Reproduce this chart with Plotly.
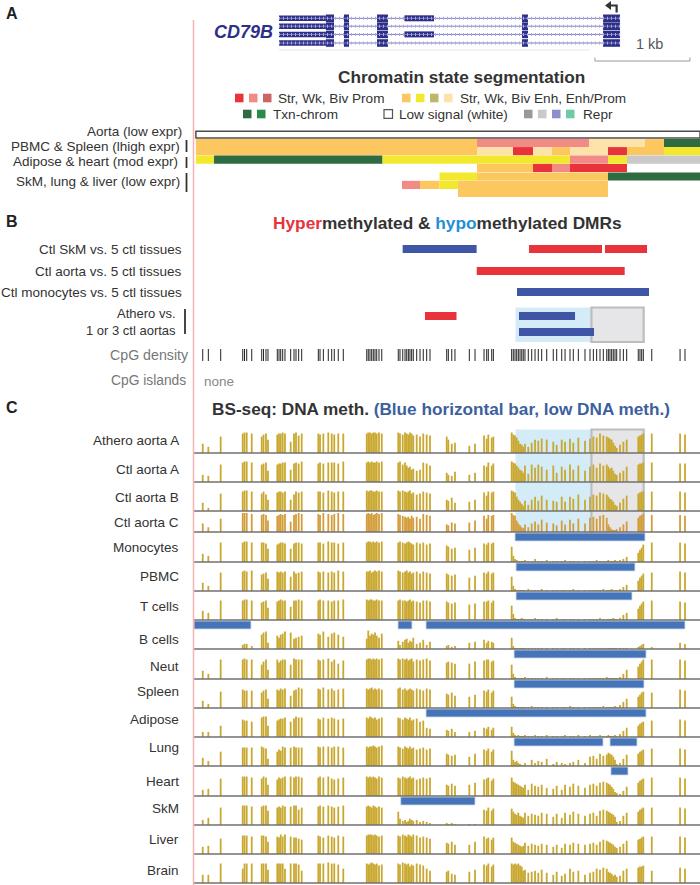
import plotly.graph_objects as go

FONT = "Liberation Sans, Arial, sans-serif"
W, H = 700, 885

# ------------------------------------------------------------------ data
WINDOW_BP = 5328                      # genomic window shown (bp from window start)
SCALEBAR_BP = [4222, 5222]            # 1 kb scale bar
TSS_BP = 4430

# gene model (CD79B, minus strand)
TRANSCRIPT_SPAN = [895, 4486]
UTR_BLOCK = [895, 1389]
EXONS_COMMON = [[1389, 1474], [1579, 1632], [1927, 2043], [3454, 3517], [4307, 4486]]
ALT_EXON = [2216, 2527]
TRANSCRIPT_HAS_ALT = [True, False, True, False]

# chromatin state segments [start, end, state]
CHROM_AORTA = [[20, 5328, "Low"]]
CHROM_PBMC_A = [[20, 2980, "EnhS"], [2980, 4159, "PromW"], [4159, 4749, "EnhP"], [4749, 4949, "EnhS"], [4949, 5328, "Txn1"]]
CHROM_PBMC_B = [[20, 2980, "EnhS"], [2980, 3359, "EnhP"], [3359, 3570, "PromS"], [3570, 3770, "EnhP"], [3770, 3959, "EnhS"],
                [3959, 4359, "EnhP"], [4359, 4559, "PromS"], [4559, 4949, "EnhS"], [4949, 5328, "EnhW"]]
CHROM_ADIP_A = [[20, 211, "EnhW"], [211, 1985, "Txn1"], [1985, 3959, "EnhW"], [3959, 4359, "PromW"], [4359, 4559, "EnhW"], [4559, 5328, "Repr2"]]
CHROM_ADIP_B = [[2980, 3570, "EnhS"], [3570, 3770, "PromS"], [3770, 3959, "PromW"], [3959, 4559, "PromS"]]
CHROM_SKM_A = [[2585, 2980, "EnhW"], [2980, 4359, "EnhS"], [4359, 5328, "Txn1"]]
CHROM_SKM_B = [[2190, 2380, "PromW"], [2380, 2585, "EnhS"], [2585, 2780, "EnhW"], [2780, 4359, "EnhS"]]
CHROM_SKM_C = [[2780, 4359, "EnhS"]]

# DMRs [start, end, type]
DMR_SKM = [[2197, 2976, "hypo"], [3528, 4296, "hyper"], [4328, 4770, "hyper"]]
DMR_AORTA = [[2977, 4535, "hyper"]]
DMR_MONO = [[3401, 4791, "hypo"]]
DMR_ATHERO_1 = [[2432, 2764, "hyper"], [3422, 4012, "hypo"]]
DMR_ATHERO_2 = [[3422, 4212, "hypo"]]
HILITE_BP = [3385, 4185]
GRAYBOX_BP = [4185, 4735]

# CpG sites (bp)
CPG_POS = [92, 151, 281,
           513, 532, 555, 608,
           713, 732, 758, 779,
           877, 895, 913, 934, 958,
           1018, 1053, 1074, 1102, 1134,
           1309, 1327, 1362, 1414, 1450, 1477, 1519, 1572,
           1819, 1835, 1853, 1871, 1888, 1906, 1924, 1948, 1977,
           2151, 2169, 2198, 2222, 2240, 2257, 2274, 2292, 2309, 2345, 2380, 2414, 2450, 2485,
           2661, 2678, 2714, 2748,
           2899, 2959,
           3054, 3082, 3099, 3135, 3152,
           3345, 3362, 3380, 3398, 3415, 3433, 3451, 3467, 3485, 3520, 3556, 3591, 3625, 3661, 3714, 3783, 3819, 3872, 3907, 3959, 3994, 4047, 4117,
           4170, 4205, 4240, 4275, 4310, 4346, 4363, 4380, 4398, 4415, 4433, 4451, 4486, 4521, 4556,
           4678, 4696, 4714, 4731,
           4820,
           5118, 5170]

# % methylation per CpG, per sample
METH_ATHERO_A = [45,30,80, 95,100,100,95, 80,90,95,65, 90,95,95,100,95, 55,95,100,85,95, 95,90,95,100,95,90,95,95,
                 95,100,100,95,100,100,95,100,95, 100,95,90,100,95,90,100,95,85,90,80,95,90,85, 80,65,45,50, 35,45, 85,70,90,75,80,
                 100,90,85,75,60,45,40,30,45,30,50,65,60,70,65,55,40,65,55,70,50,75,60,
                 70,80,75,95,85,80,75,70,65,50,35,25,40,55,65, 80,85,90,95, 95, 95,90]
METH_CTL_AORTA_A = [35,30,85, 95,100,100,95, 85,90,95,55, 85,90,90,95,95, 60,90,95,90,100, 90,95,90,95,95,95,90,100,
                    95,100,95,100,95,95,100,95,100, 95,100,85,95,80,70,75,60,65,55,60,95,90,80, 45,35,30,50, 35,45, 80,75,95,80,90,
                    100,95,90,80,70,60,55,45,80,40,85,70,85,75,60,80,45,75,60,85,60,80,55,
                    75,85,70,90,80,85,75,65,70,55,40,35,45,55,75, 85,90,90,95, 95, 90,90]
METH_CTL_AORTA_B = [40,15,85, 95,100,100,95, 85,95,80,55, 90,95,95,90,95, 55,80,95,90,95, 95,95,90,100,95,90,95,95,
                    100,95,100,100,95,95,100,95,95, 100,95,100,95,90,95,100,85,90,80,85,95,90,85, 55,50,65,40, 45,55, 90,75,95,90,95,
                    100,95,90,70,55,45,35,25,50,30,55,70,50,75,55,50,45,70,45,70,60,80,55,
                    70,80,75,90,85,80,70,60,55,45,30,25,40,60,75, 85,90,95,95, 95, 95,90]
METH_CTL_AORTA_C = [45,25,70, 100,100,100,95, 90,95,90,60, 85,90,95,90,95, 55,90,95,100,95, 95,90,100,95,90,95,100,95,
                    95,100,95,100,90,95,100,95,100, 95,90,85,80,75,80,70,85,75,80,70,95,90,85, 40,35,50,45, 50,60, 85,70,90,85,90,
                    100,90,85,60,45,35,25,20,40,25,45,55,40,65,50,45,35,60,40,65,45,70,45,
                    75,80,70,85,90,75,40,25,15,10,10,15,25,40,55, 75,85,90,95, 90, 90,85]
METH_MONOCYTES = [40,30,95, 95,100,100,95, 95,95,90,65, 85,90,95,95,90, 65,90,95,95,90, 95,95,90,100,95,95,90,95,
                  95,100,100,95,100,95,100,95,100, 95,100,95,90,95,100,95,90,85,95,90,95,85,90, 80,75,65,70, 60,70, 90,85,95,90,95,
                  75,30,15,10,5,5,5,5,10,5,5,15,5,5,10,5,5,5,10,5,5,5,5,
                  5,5,10,5,5,5,10,5,5,5,10,5,10,15,25, 45,60,70,85, 95, 95,90]
METH_PBMC = [40,25,90, 95,100,95,100, 80,85,90,60, 95,90,95,90,95, 70,95,85,90,95, 95,90,95,90,95,90,100,95,
             95,95,100,90,95,100,95,100,95, 100,95,90,95,100,90,95,85,90,95,85,95,90,85, 85,80,75,80, 65,75, 90,85,95,85,90,
             70,25,10,5,5,5,5,5,5,10,5,5,5,10,5,5,5,5,5,5,10,5,5,
             5,5,5,5,10,5,5,5,10,5,5,5,10,20,30, 50,65,75,85, 90, 95,90]
METH_T_CELLS = [45,35,95, 95,100,100,95, 85,90,95,60, 90,95,100,95,95, 65,95,95,100,95, 95,100,95,95,90,95,95,100,
                100,95,100,100,95,95,100,95,95, 95,100,95,95,90,95,100,90,95,90,85,95,95,90, 90,85,80,85, 75,80, 90,90,95,85,95,
                70,30,10,5,5,5,10,5,5,5,5,10,5,5,5,5,10,5,5,5,5,5,5,
                5,5,5,10,5,5,5,5,5,10,5,5,10,25,35, 55,70,80,90, 95, 90,85]
METH_B_CELLS = [0,0,0, 20,25,25,15, 70,80,85,30, 65,55,70,75,85, 80,50,55,60,65, 75,70,85,60,75,80,70,60,
                50,90,65,75,70,80,65,55,75, 40,20,35,45,50,30,40,35,55,25,30,45,20,35, 15,20,10,15, 30,35, 45,30,40,35,30,
                55,15,5,5,5,5,5,5,5,5,5,5,5,5,5,5,5,5,5,5,5,5,5,
                5,5,5,5,5,5,5,5,5,5,5,5,5,5,5, 10,15,20,25, 10, 30,25]
METH_NEUT = [40,25,95, 95,100,95,95, 70,85,95,45, 95,80,90,95,95, 70,100,95,95,95, 95,90,95,100,85,95,75,90,
             95,100,100,95,100,95,100,95,100, 100,95,100,95,100,90,95,100,85,95,90,95,100,90, 80,85,80,75, 75,85, 90,95,95,85,90,
             70,25,10,5,5,5,5,5,10,5,5,5,5,5,10,5,5,5,5,5,5,5,5,
             5,5,5,5,5,10,5,5,5,5,5,5,10,25,45, 60,75,85,95, 95, 95,90]
METH_SPLEEN = [35,20,80, 90,85,85,85, 75,85,90,45, 90,85,95,90,95, 60,85,90,100,95, 95,90,100,90,95,85,90,95,
               95,90,95,100,90,95,90,95,90, 95,100,90,95,85,90,95,90,85,95,90,85,95,90, 70,65,75,60, 55,65, 85,80,90,75,85,
               55,20,10,5,5,5,5,5,5,5,10,5,5,5,5,5,5,5,5,10,5,5,5,
               5,5,5,5,10,5,5,5,5,5,10,5,15,30,45, 55,65,75,80, 75, 90,85]
METH_ADIPOSE = [25,25,55, 85,80,80,75, 95,100,100,55, 80,85,90,90,95, 75,90,100,95,95, 90,85,95,90,95,90,85,90,
                95,90,100,95,90,95,85,90,95, 95,90,85,95,90,85,95,80,85,90,75,80,45,40, 35,30,40,25, 25,30, 45,40,50,35,45,
                50,20,10,5,10,5,5,5,10,5,5,10,5,5,10,5,5,5,10,5,5,10,5,
                10,5,5,10,5,5,10,5,5,5,10,5,15,30,45, 55,65,70,75, 80, 85,80]
METH_LUNG = [40,25,70, 90,90,90,90, 95,90,85,35, 70,80,75,95,90, 90,95,90,90,90, 95,90,95,95,90,95,95,90,
             95,90,95,95,100,95,90,95,100, 95,90,85,95,90,85,95,85,90,80,85,90,80,85, 60,55,50,55, 45,60, 80,75,85,70,80,
             75,30,20,25,15,10,5,5,15,5,30,15,25,20,35,10,20,15,10,15,20,30,15,
             45,50,35,60,50,55,65,60,55,45,30,10,15,35,55, 60,70,75,80, 85, 85,80]
METH_HEART = [30,35,85, 95,95,95,90, 85,95,90,55, 80,90,85,90,95, 95,90,95,95,90, 90,95,90,95,85,80,85,90,
              95,90,95,90,95,90,85,95,90, 90,85,95,90,85,90,95,85,90,80,85,90,85,90, 55,50,60,50, 55,65, 80,85,90,75,85,
              90,70,65,60,55,50,45,40,55,30,60,50,45,55,40,35,50,30,55,45,60,50,40,
              55,60,50,65,70,65,60,55,45,35,20,15,10,25,45, 65,75,80,85, 90, 90,85]
METH_SKM = [25,35,85, 95,95,95,90, 90,95,95,70, 85,90,85,95,90, 90,95,95,75,85, 90,95,90,95,90,85,90,95,
            90,95,90,85,95,90,85,90,85, 65,30,20,25,15,20,30,25,20,25,15,20,15,10, 10,5,10,5, 5,5, 75,70,85,70,80,
            80,65,55,50,60,45,40,35,60,45,55,50,45,60,55,40,55,35,60,50,65,55,45,
            55,60,45,70,75,70,65,60,55,50,40,15,20,45,60, 65,75,80,85, 85, 85,80]
METH_LIVER = [35,40,75, 90,90,90,85, 90,90,85,60, 85,80,95,85,95, 85,80,80,75,70, 90,85,80,90,85,80,90,85,
              90,95,95,95,90,95,90,85,90, 90,85,95,90,85,95,90,85,95,90,80,85,80,75, 55,50,60,45, 45,60, 85,75,80,70,80,
              80,60,55,50,45,40,35,40,55,40,50,45,40,50,45,35,45,30,50,45,55,50,45,
              50,55,45,60,70,65,60,55,50,45,35,30,35,50,65, 70,75,80,85, 85, 85,80]
METH_BRAIN = [40,40,95, 70,95,95,95, 95,95,95,65, 95,95,95,95,70, 95,95,95,90,60, 95,95,95,100,95,95,90,70,
              95,90,95,100,95,90,95,85,90, 95,90,100,95,90,95,80,90,85,95,90,85,70,60, 55,60,45,40, 55,65, 90,85,95,80,90,
              95,90,95,90,95,85,80,60,65,50,55,60,50,65,50,40,55,35,45,70,55,60,40,
              50,55,70,65,75,70,55,50,45,35,40,30,35,60,70, 75,80,80,85, 60, 75,70]

SAMPLES = ["Athero aorta A", "Ctl aorta A", "Ctl aorta B", "Ctl aorta C", "Monocytes", "PBMC", "T cells", "B cells",
           "Neut", "Spleen", "Adipose", "Lung", "Heart", "SkM", "Liver", "Brain"]
METH = [METH_ATHERO_A, METH_CTL_AORTA_A, METH_CTL_AORTA_B, METH_CTL_AORTA_C, METH_MONOCYTES, METH_PBMC, METH_T_CELLS,
        METH_B_CELLS, METH_NEUT, METH_SPLEEN, METH_ADIPOSE, METH_LUNG, METH_HEART, METH_SKM, METH_LIVER, METH_BRAIN]

# low-methylation (blue) bars per sample
LOWMETH = {
    "Monocytes": [[3380, 4749]],
    "PBMC": [[3391, 4643]],
    "T cells": [[3391, 4612]],
    "B cells": [[0, 600], [2148, 2295], [2443, 5170]],
    "Neut": [[3370, 4760]],
    "Spleen": [[3370, 4738]],
    "Adipose": [[2443, 4760]],
    "Lung": [[3370, 4307], [4380, 4665]],
    "Heart": [[4390, 4570]],
    "SkM": [[2177, 2959]],
}

# ------------------------------------------------------------------ styles / layout constants
STATE_COLORS = {
    "PromS": "#e8333a", "PromW": "#f28a86", "PromB": "#cd6567",
    "EnhS": "#fdc760", "EnhW": "#f2e82e", "EnhB": "#bdb66b", "EnhP": "#fde2aa",
    "Txn1": "#2e6b40", "Txn2": "#2a8a4a",
    "Repr1": "#999999", "Repr2": "#c9c9c9", "Repr3": "#8c90cc", "Repr4": "#6fcaa7",
    "Low": "#ffffff",
}
DMR_COLORS = {"hyper": "#e8333a", "hypo": "#3f56a6"}
LOW_BLUE = "#4674b8"
GOLD = "#c9a831"
GOLD_C = "#d39d3c"
GENE_COLOR = "#2e3087"
LBL = 13.5

TRANSCRIPT_Y = [18.3, 26.2, 34.4, 43.0]
CHROM_ROWS = [(CHROM_PBMC_A, 143.2), (CHROM_PBMC_B, 151.2), (CHROM_ADIP_A, 159.6), (CHROM_ADIP_B, 168.0),
              (CHROM_SKM_A, 176.5), (CHROM_SKM_B, 184.9), (CHROM_SKM_C, 193.0)]
DMR_ROWS = [(DMR_SKM, 249), (DMR_AORTA, 271), (DMR_MONO, 292), (DMR_ATHERO_1, 316), (DMR_ATHERO_2, 332)]
BASELINES = [453, 482, 511, 532, 562, 591, 620, 649, 679, 708, 737, 766, 796, 825, 854, 883]
LABEL_Y = [440.7, 469, 497.7, 522, 547, 576.7, 606.7, 639, 666, 691.7, 719, 747.3, 781.7, 808.3, 839, 870.7]

fig = go.Figure()
shapes = []
ann = []


def P(xpx):
    return xpx / W


def hbars(segs, yc, hgt, colors, lc="rgba(0,0,0,0)", lw=0):
    fig.add_trace(go.Bar(orientation="h", base=[s[0] for s in segs], x=[s[1] - s[0] for s in segs],
                         y=[yc] * len(segs), width=[hgt] * len(segs),
                         marker=dict(color=colors, line=dict(color=lc, width=lw)), hoverinfo="skip"))


def line(xs, ys, color, width, dash=None):
    fig.add_trace(go.Scatter(x=xs, y=ys, mode="lines", line=dict(color=color, width=width, dash=dash),
                             hoverinfo="skip"))


def text(xpx, ypx, s, size=LBL, color="#333333", anchor="right"):
    ann.append(dict(xref="paper", yref="y", x=P(xpx), y=ypx, text=s, showarrow=False, xanchor=anchor,
                    yanchor="middle", font=dict(family=FONT, size=size, color=color)))


# ---------------- section A: gene model
line([TRANSCRIPT_SPAN[0], GRAYBOX_BP[0] - 15], [50, 50], "#e6e6e6", 1)
for yc, alt in zip(TRANSCRIPT_Y, TRANSCRIPT_HAS_ALT):
    line(TRANSCRIPT_SPAN, [yc, yc], "#7c7cc4", 1)
    line(TRANSCRIPT_SPAN, [yc, yc], "#a9a9df", 3, "1px,3px")
    hbars([UTR_BLOCK], yc, 5.5, GENE_COLOR)
    hbars(EXONS_COMMON, yc, 7.6, GENE_COLOR)
    if alt:
        hbars([ALT_EXON], yc, 6, GENE_COLOR)
# TSS arrow
line([TSS_BP + 20, TSS_BP + 20, TSS_BP - 45], [12.5, 5.5, 5.5], "#333333", 2.2)
fig.add_trace(go.Scatter(x=[TSS_BP - 60], y=[5.5], mode="markers",
                         marker=dict(symbol="triangle-left", size=8, color="#333333"), hoverinfo="skip"))
# scale bar
line([SCALEBAR_BP[0], SCALEBAR_BP[0], SCALEBAR_BP[1], SCALEBAR_BP[1]], [57.5, 61, 61, 57.5], "#9a9a9a", 1)
ann.append(dict(xref="x", yref="y", x=(SCALEBAR_BP[0] + SCALEBAR_BP[1]) / 2 + 70, y=44, text="1 kb",
                showarrow=False, font=dict(family=FONT, size=14.5, color="#555555")))
ann.append(dict(xref="paper", yref="y", x=P(243), y=32, text="<b><i>CD79B</i></b>", showarrow=False,
                font=dict(family=FONT, size=18, color=GENE_COLOR)))

# chromatin title + legend
text(461, 77, "<b>Chromatin state segmentation</b>", size=17.2, anchor="center")
legend_items = [
    (98, [235, 249, 263], ["PromS", "PromW", "PromB"], 277, "Str, Wk, Biv Prom"),
    (98, [402, 416, 430, 444], ["EnhS", "EnhW", "EnhB", "EnhP"], 459, "Str, Wk, Biv Enh, Enh/Prom"),
    (114, [243, 257], ["Txn1", "Txn2"], 272, "Txn-chrom"),
    (114, [384], ["Low"], 398, "Low signal (white)"),
    (114, [524, 538, 552, 566], ["Repr1", "Repr2", "Repr3", "Repr4"], 582, "Repr"),
]
for yc, xs, states, tx, label in legend_items:
    for xl, st in zip(xs, states):
        shapes.append(dict(type="rect", xref="paper", yref="y", x0=P(xl), x1=P(xl + 8.5), y0=yc - 4.3, y1=yc + 4.3,
                           fillcolor=STATE_COLORS[st],
                           line=dict(color="#555555" if st == "Low" else STATE_COLORS[st], width=1.2 if st == "Low" else 0)))
    text(tx - 1, yc, label, size=13.6, anchor="left")

# chromatin rows
hbars([s[:2] for s in CHROM_AORTA], 134.6, 6.6, "#ffffff", lc="#4d4d4d", lw=1.5)
for segs, yc in CHROM_ROWS:
    hbars([s[:2] for s in segs], yc, 8.2, [STATE_COLORS[s[2]] for s in segs])

text(184, 131.7, "Aorta (low expr)")
text(182, 146, "PBMC & Spleen (lhigh expr)")
text(180, 161.5, "Adipose & heart (mod expr)")
text(182, 181.7, "SkM, lung & liver (low expr)")
for y0, y1 in [(140, 152), (157, 168), (173, 192)]:
    shapes.append(dict(type="line", xref="paper", yref="y", x0=P(186.5), x1=P(186.5), y0=y0, y1=y1,
                       line=dict(color="#333333", width=1.8)))

# ---------------- section B
for (x0, x1), fill, lc in [(HILITE_BP, "#d3ecf8", "rgba(0,0,0,0)"), (GRAYBOX_BP, "#e6e6e8", "#bdbdbd")]:
    shapes.append(dict(type="rect", xref="x", yref="y", x0=x0, x1=x1, y0=307.5, y1=342, fillcolor=fill,
                       line=dict(color=lc, width=2.2 if lc != "rgba(0,0,0,0)" else 0), layer="below"))
for segs, yc in DMR_ROWS:
    hbars([s[:2] for s in segs], yc, 8, [DMR_COLORS[s[2]] for s in segs])

text(447, 223, "<b><span style='color:#e8333a'>Hyper</span>methylated &amp; "
               "<span style='color:#1f8fd6'>hypo</span>methylated DMRs</b>", size=17.3, anchor="center")
text(184, 249, "Ctl SkM vs. 5 ctl tissues")
text(184, 271, "Ctl aorta vs. 5 ctl tissues")
text(184, 292, "Ctl monocytes vs. 5 ctl tissues")
text(178, 313.5, "Athero vs.", size=13)
text(178, 330, "1 or 3 ctl aortas", size=13)
shapes.append(dict(type="line", xref="paper", yref="y", x0=P(185), x1=P(185), y0=309, y1=334,
                   line=dict(color="#333333", width=1.8)))

# CpG density ticks
cx, cy = [], []
for p in CPG_POS:
    cx += [p, p, None]
    cy += [349, 361, None]
line(cx, cy, "#222222", 1)
text(191, 355, "CpG density", size=14.2, color="#777777")
text(188, 380, "CpG islands", size=13.8, color="#777777")
text(202, 381, "none", size=13.5, color="#888888", anchor="left")

# ---------------- section C
for (x0, x1), fill, lc in [(HILITE_BP, "#d3ecf8", "rgba(0,0,0,0)"), (GRAYBOX_BP, "#e6e6e8", "#bdbdbd")]:
    shapes.append(dict(type="rect", xref="x", yref="y", x0=x0, x1=x1, y0=429.5, y1=535, fillcolor=fill,
                       line=dict(color=lc, width=2.2 if lc != "rgba(0,0,0,0)" else 0), layer="below"))

text(210, 409, "<b>BS-seq: DNA meth. <span style='color:#3d5f9e'>(Blue horizontal bar, low DNA meth.)</span></b>",
     size=17.2, anchor="left")

for i, (name, vals) in enumerate(zip(SAMPLES, METH)):
    base = BASELINES[i]
    full = 19 if name == "Ctl aorta C" else 20.5
    xs, ys = [], []
    for p, v in zip(CPG_POS, vals):
        if v <= 0:
            continue
        xs += [p, p, None]
        ys += [base, base - full * v / 100.0, None]
    line(xs, ys, GOLD_C if name == "Ctl aorta C" else GOLD, 1.8)
    line([0, WINDOW_BP], [base, base], "#707070", 1.6)
    if name in LOWMETH:
        prev = BASELINES[i - 1]
        hbars(LOWMETH[name], prev + 5, 8, LOW_BLUE, lc="#cfdcf0", lw=0.8)
    text(181, LABEL_Y[i], name)

# panel letters + left rule
for letter, yy in [("A", 13), ("B", 221), ("C", 407)]:
    text(4, yy, "<b>%s</b>" % letter, size=16, color="#222222", anchor="left")
shapes.append(dict(type="line", xref="paper", yref="y", x0=P(193.5), x1=P(193.5), y0=20, y1=885,
                   line=dict(color="#f4b4b4", width=1.5)))

fig.update_layout(
    width=W, height=H, margin=dict(l=0, r=0, t=0, b=0),
    paper_bgcolor="white", plot_bgcolor="white", showlegend=False, barmode="overlay",
    xaxis=dict(domain=[P(194), 1], range=[0, WINDOW_BP], visible=False, fixedrange=True),
    yaxis=dict(domain=[0, 1], range=[H, 0], visible=False, fixedrange=True),
    shapes=shapes, annotations=ann,
)
fig.write_html("out.html", config={"displayModeBar": False},
               post_script="document.body.style.margin='0px';document.body.style.overflow='hidden';")
